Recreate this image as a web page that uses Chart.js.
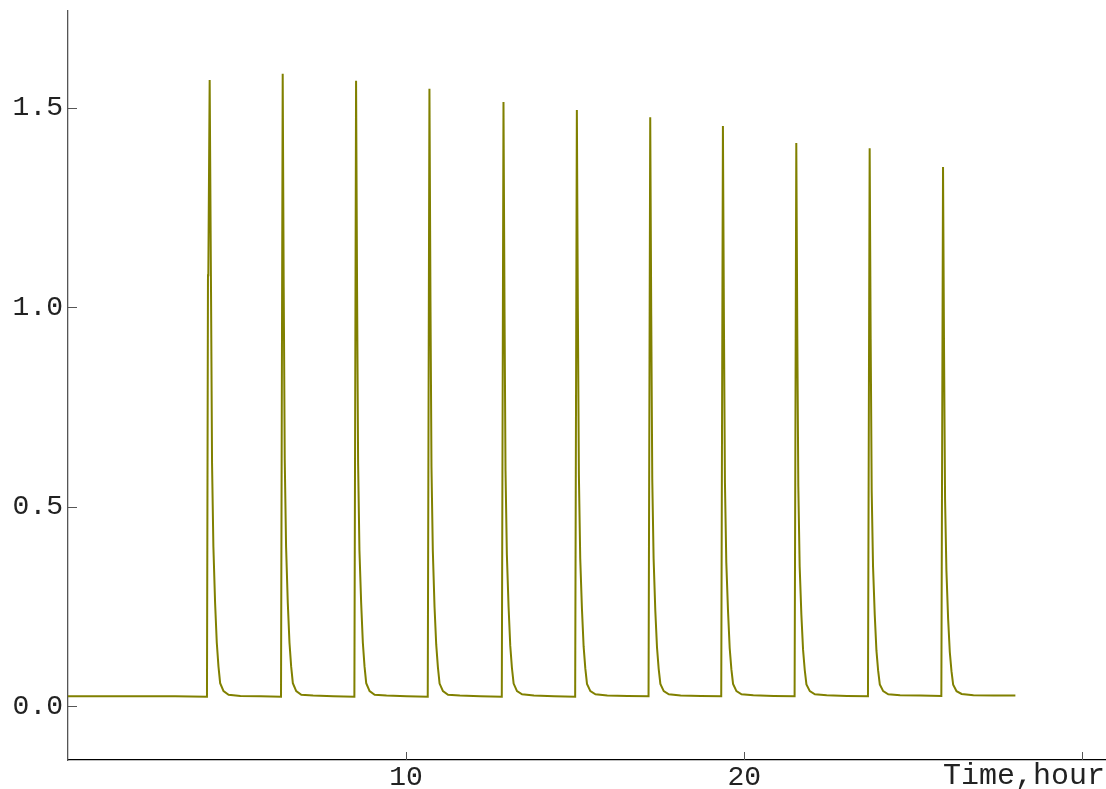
<!DOCTYPE html>
<html>
<head>
<meta charset="utf-8">
<script src="https://cdn.jsdelivr.net/npm/chart.js@4.4.1/dist/chart.umd.min.js"></script>
<style>
  html, body { margin: 0; padding: 0; background: #fff; }
  #wrap { width: 1106px; height: 789px; }
</style>
</head>
<body>
<div id="wrap"><canvas id="c" width="1106" height="789"></canvas></div>
<script>
// ---- data ----
const timeHours = [
  0.00, 3.17,
  4.11, 4.14, 4.15, 4.19, 4.23, 4.26, 4.30, 4.35, 4.40, 4.45, 4.50, 4.60, 4.75, 5.10, 5.70,
  6.30, 6.35, 6.38, 6.41, 6.45, 6.50, 6.55, 6.60, 6.65, 6.75, 6.90, 7.25, 7.85,
  8.47, 8.52, 8.55, 8.58, 8.62, 8.67, 8.72, 8.77, 8.82, 8.92, 9.07, 9.42, 10.02,
  10.64, 10.69, 10.72, 10.75, 10.79, 10.84, 10.89, 10.94, 10.99, 11.09, 11.24, 11.59, 12.19,
  12.83, 12.88, 12.91, 12.94, 12.98, 13.03, 13.08, 13.13, 13.18, 13.28, 13.43, 13.78, 14.38,
  15.00, 15.05, 15.08, 15.11, 15.15, 15.20, 15.25, 15.30, 15.35, 15.45, 15.60, 15.95, 16.55,
  17.17, 17.22, 17.25, 17.28, 17.32, 17.37, 17.42, 17.47, 17.52, 17.62, 17.77, 18.12, 18.72,
  19.32, 19.37, 19.40, 19.43, 19.47, 19.52, 19.57, 19.62, 19.67, 19.77, 19.92, 20.27, 20.87,
  21.49, 21.54, 21.57, 21.60, 21.64, 21.69, 21.74, 21.79, 21.84, 21.94, 22.09, 22.44, 23.04,
  23.66, 23.71, 23.74, 23.77, 23.81, 23.86, 23.91, 23.96, 24.01, 24.11, 24.26, 24.61, 25.21,
  25.83, 25.88, 25.91, 25.94, 25.98, 26.03, 26.08, 26.13, 26.18, 26.28, 26.43, 26.78, 27.38, 28.02
];
const concentration = [
  0.025, 0.025,
  0.024, 1.080, 1.080, 1.569, 1.040, 0.610, 0.400, 0.260, 0.160, 0.100, 0.058, 0.038, 0.029, 0.026, 0.025,
  0.024, 1.585, 1.050, 0.620, 0.400, 0.260, 0.160, 0.100, 0.058, 0.038, 0.029, 0.027, 0.025,
  0.024, 1.567, 1.040, 0.610, 0.390, 0.260, 0.160, 0.100, 0.058, 0.038, 0.029, 0.027, 0.025,
  0.024, 1.547, 1.020, 0.600, 0.390, 0.250, 0.155, 0.098, 0.057, 0.038, 0.029, 0.027, 0.025,
  0.024, 1.514, 1.000, 0.590, 0.380, 0.250, 0.152, 0.096, 0.057, 0.038, 0.030, 0.027, 0.025,
  0.024, 1.494, 0.990, 0.580, 0.370, 0.245, 0.150, 0.095, 0.056, 0.038, 0.030, 0.027, 0.026,
  0.025, 1.476, 0.980, 0.570, 0.370, 0.240, 0.148, 0.094, 0.056, 0.038, 0.030, 0.027, 0.026,
  0.025, 1.454, 0.960, 0.560, 0.360, 0.240, 0.146, 0.093, 0.056, 0.038, 0.030, 0.028, 0.026,
  0.025, 1.411, 0.930, 0.550, 0.350, 0.230, 0.142, 0.091, 0.055, 0.038, 0.030, 0.028, 0.026,
  0.025, 1.398, 0.920, 0.540, 0.350, 0.230, 0.140, 0.090, 0.055, 0.038, 0.030, 0.028, 0.027,
  0.026, 1.351, 0.890, 0.520, 0.340, 0.220, 0.136, 0.088, 0.054, 0.038, 0.031, 0.028, 0.027, 0.027
];
const xTickValues = [10, 20, 30];
const xTickLabels = ['10', '20', ''];
const yTickValues = [0, 0.5, 1.0, 1.5];
const yTickLabels = ['0.0', '0.5', '1.0', '1.5'];
const xAxisLabel = 'Time,hour';

const points = timeHours.map((t, i) => ({ x: t, y: concentration[i] }));

const FONT = '"Liberation Mono", "DejaVu Sans Mono", monospace';

const innerTicks = {
  id: 'innerTicks',
  afterDraw(chart) {
    const ctx = chart.ctx;
    const xs = chart.scales.x, ys = chart.scales.y;
    ctx.save();
    ctx.strokeStyle = '#555';
    ctx.lineWidth = 1;
    ctx.beginPath();
    yTickValues.forEach(v => {
      const py = Math.round(ys.getPixelForValue(v)) + 0.5;
      ctx.moveTo(xs.left, py);
      ctx.lineTo(xs.left + 9, py);
    });
    xTickValues.forEach(v => {
      const px = Math.round(xs.getPixelForValue(v)) + 0.5;
      ctx.moveTo(px, ys.bottom);
      ctx.lineTo(px, ys.bottom - 8);
    });
    ctx.stroke();
    // axis label at the right end of the x axis
    ctx.fillStyle = '#222';
    ctx.font = '30px ' + FONT;
    ctx.textAlign = 'right';
    ctx.textBaseline = 'alphabetic';
    ctx.fillText(xAxisLabel, xs.right - 1, xs.top + 24);
    ctx.restore();
  }
};

new Chart(document.getElementById('c'), {
  type: 'line',
  data: {
    datasets: [{
      data: points,
      borderColor: '#808000',
      borderWidth: 2,
      pointRadius: 0,
      tension: 0,
      fill: false
    }]
  },
  options: {
    responsive: false,
    animation: false,
    parsing: false,
    layout: { padding: { top: 11, right: 0, left: 0, bottom: 0 } },
    plugins: { legend: { display: false }, tooltip: { enabled: false } },
    scales: {
      x: {
        type: 'linear',
        min: 0,
        max: 30.7,
        afterBuildTicks: s => { s.ticks = xTickValues.map(v => ({ value: v })); },
        afterFit: s => { s.height = 29; s.paddingLeft = 0; s.paddingRight = 0; },
        grid: { display: false, drawTicks: false },
        border: { display: true, color: '#000', width: 1.3 },
        ticks: {
          padding: 1,
          maxRotation: 0,
          autoSkip: false,
          color: '#222',
          font: { family: FONT, size: 28 },
          callback: (v) => { const i = xTickValues.indexOf(v); return i >= 0 ? xTickLabels[i] : ''; }
        }
      },
      y: {
        type: 'linear',
        min: -0.1345,
        max: 1.742,
        afterBuildTicks: s => { s.ticks = yTickValues.map(v => ({ value: v })); },
        afterFit: s => { s.width = 68; s.paddingTop = 0; s.paddingBottom = 0; },
        grid: { display: false, drawTicks: false },
        border: { display: true, color: '#555', width: 1.3 },
        ticks: {
          padding: 5,
          autoSkip: false,
          color: '#222',
          font: { family: FONT, size: 28 },
          callback: (v) => { const i = yTickValues.indexOf(v); return i >= 0 ? yTickLabels[i] : ''; }
        }
      }
    }
  },
  plugins: [innerTicks]
});
</script>
</body>
</html>
